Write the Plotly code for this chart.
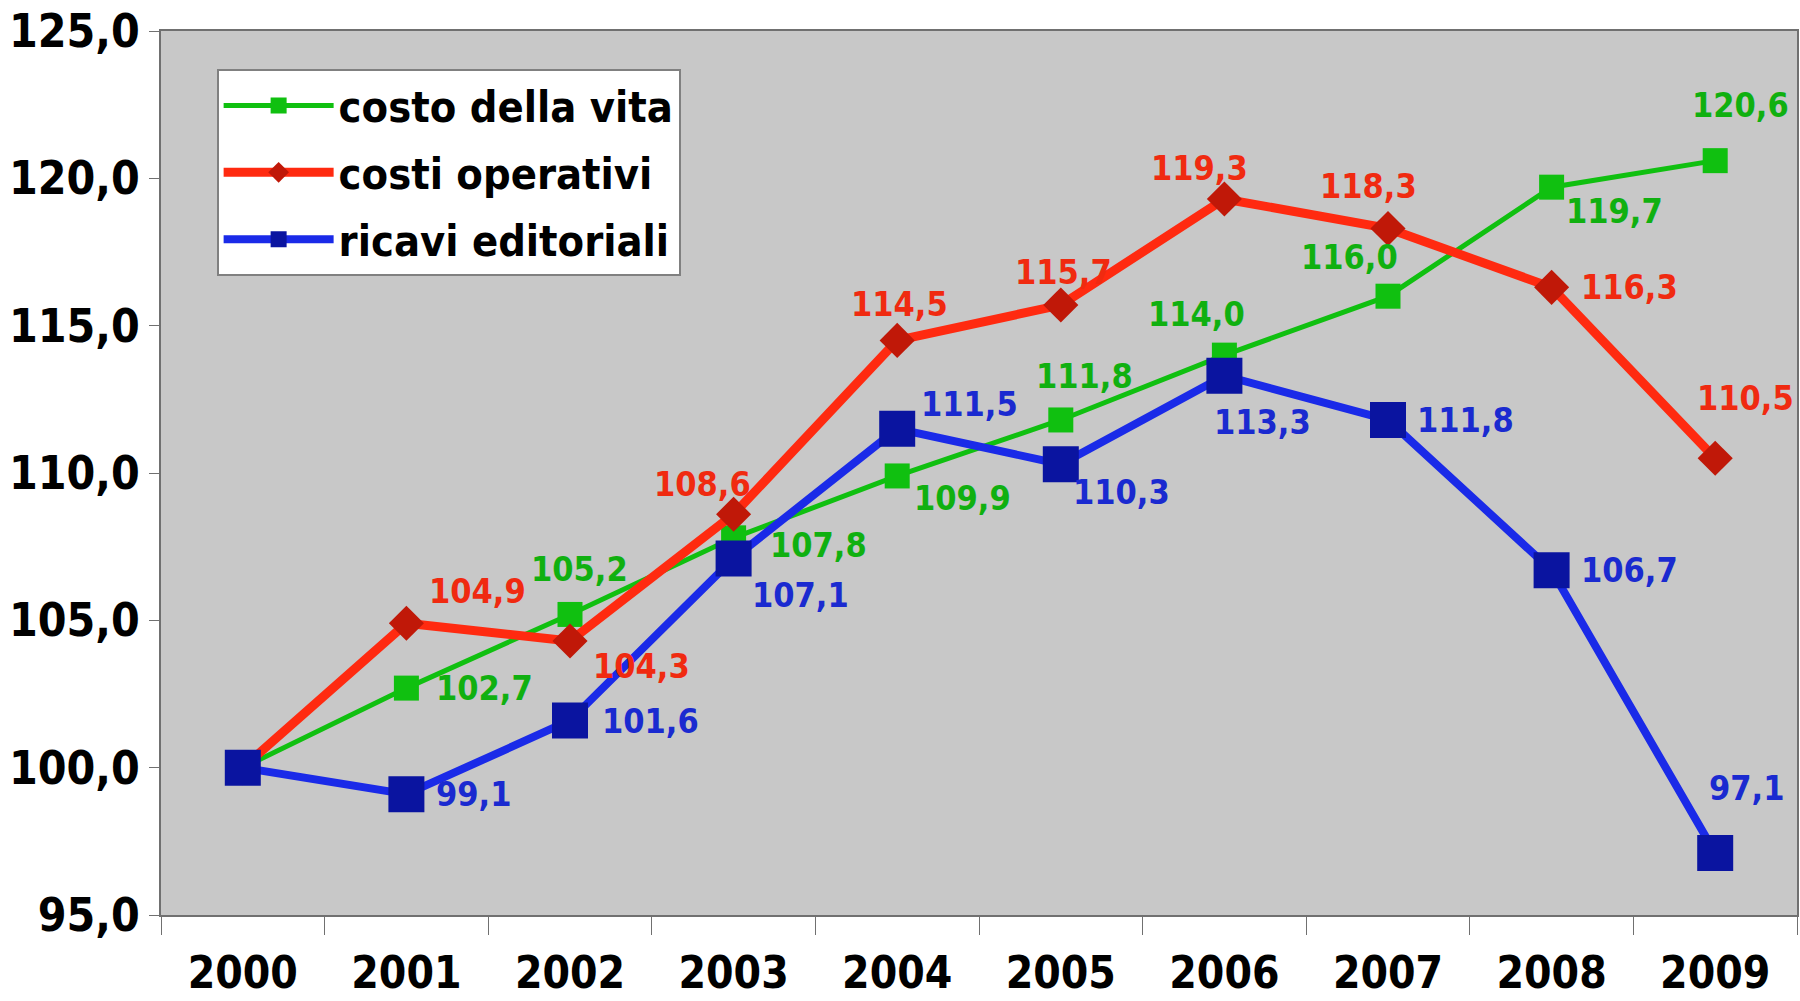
import plotly.graph_objects as go

years = ["2000", "2001", "2002", "2003", "2004", "2005", "2006", "2007", "2008", "2009"]
costo_vita = [100.0, 102.7, 105.2, 107.8, 109.9, 111.8, 114.0, 116.0, 119.7, 120.6]
costi_operativi = [100.0, 104.9, 104.3, 108.6, 114.5, 115.7, 119.3, 118.3, 116.3, 110.5]
ricavi_editoriali = [100.0, 99.1, 101.6, 107.1, 111.5, 110.3, 113.3, 111.8, 106.7, 97.1]

# label offsets in px (dx, dy), None = no label
off_verde = [None, (78, 0), (9, -45), (85, 7), (65, 22), (24, -44), (-28, -41), (-39, -39), (63, 24), (25, -56)]
off_rosso = [None, (71, -32), (71, 25), (-31, -30), (2, -36), (3, -33), (-25, -31), (-20, -42), (78, 0), (30, -60)]
off_blu = [None, (67, 0), (80, 0), (67, 37), (72, -25), (61, 28), (38, 46), (77, 0), (78, 0), (31, -65)]

FONT = "DejaVu Sans Condensed, Liberation Sans Narrow, Arial Narrow, Liberation Sans"

series = [
    ("costo della vita", costo_vita, off_verde, "#10c010", "#10c010", "square", 25, 5, "#10b010"),
    ("costi operativi", costi_operativi, off_rosso, "#ff2a10", "#c01808", "diamond", 27, 9, "#f02a10"),
    ("ricavi editoriali", ricavi_editoriali, off_blu, "#1a2ae8", "#0a14a0", "square", 36, 8, "#1a2ad0"),
]

fig = go.Figure()
annotations = []
for name, vals, offs, lc, mc, sym, ms, lw, tc in series:
    fig.add_trace(go.Scatter(
        x=years, y=vals, name=name, mode="lines+markers", legendgroup=name,
        line=dict(color=lc, width=lw),
        marker=dict(symbol=sym, size=ms, color=mc, line=dict(width=0)),
    ))
    for i, (v, o) in enumerate(zip(vals, offs)):
        if o is None:
            continue
        annotations.append(dict(
            x=i, y=v, xref="x", yref="y", showarrow=False,
            text=f"{v:.1f}".replace(".", ","), xshift=o[0], yshift=-o[1],
            font=dict(family=FONT, size=34, color=tc, weight="bold"),
        ))

fig.update_layout(
    width=1800, height=1001,
    margin=dict(l=161, r=3, t=31, b=86),
    paper_bgcolor="white", plot_bgcolor="#c8c8c8",
    separators=",.",
    annotations=annotations,
    showlegend=True,
    legend=dict(
        x=0.034, y=0.957, xanchor="left", yanchor="top",
        bgcolor="white", bordercolor="#808080", borderwidth=2,
        font=dict(family=FONT, size=43, color="black", weight="bold"),
        itemwidth=110, tracegroupgap=8,
    ),
)
fig.update_xaxes(
    type="category", range=[-0.5, 9.5], automargin=False,
    showgrid=False, showline=True, linecolor="#707070", linewidth=2, mirror=True,
    ticks="outside", tickson="boundaries", ticklen=18, tickcolor="#707070",
    ticklabelstandoff=18,
    tickfont=dict(family=FONT, size=44, color="black", weight="bold"),
)
fig.update_yaxes(
    range=[95, 125], dtick=5, tickformat=".1f", automargin=False,
    showgrid=False, showline=True, linecolor="#707070", linewidth=2, mirror=True,
    ticks="outside", ticklen=10, tickcolor="#707070",
    tickfont=dict(family=FONT, size=46, color="black", weight="bold"),
    zeroline=False,
)

fig.write_html("out.html", config={"displayModeBar": False},
               post_script="document.body.style.margin='0';")
